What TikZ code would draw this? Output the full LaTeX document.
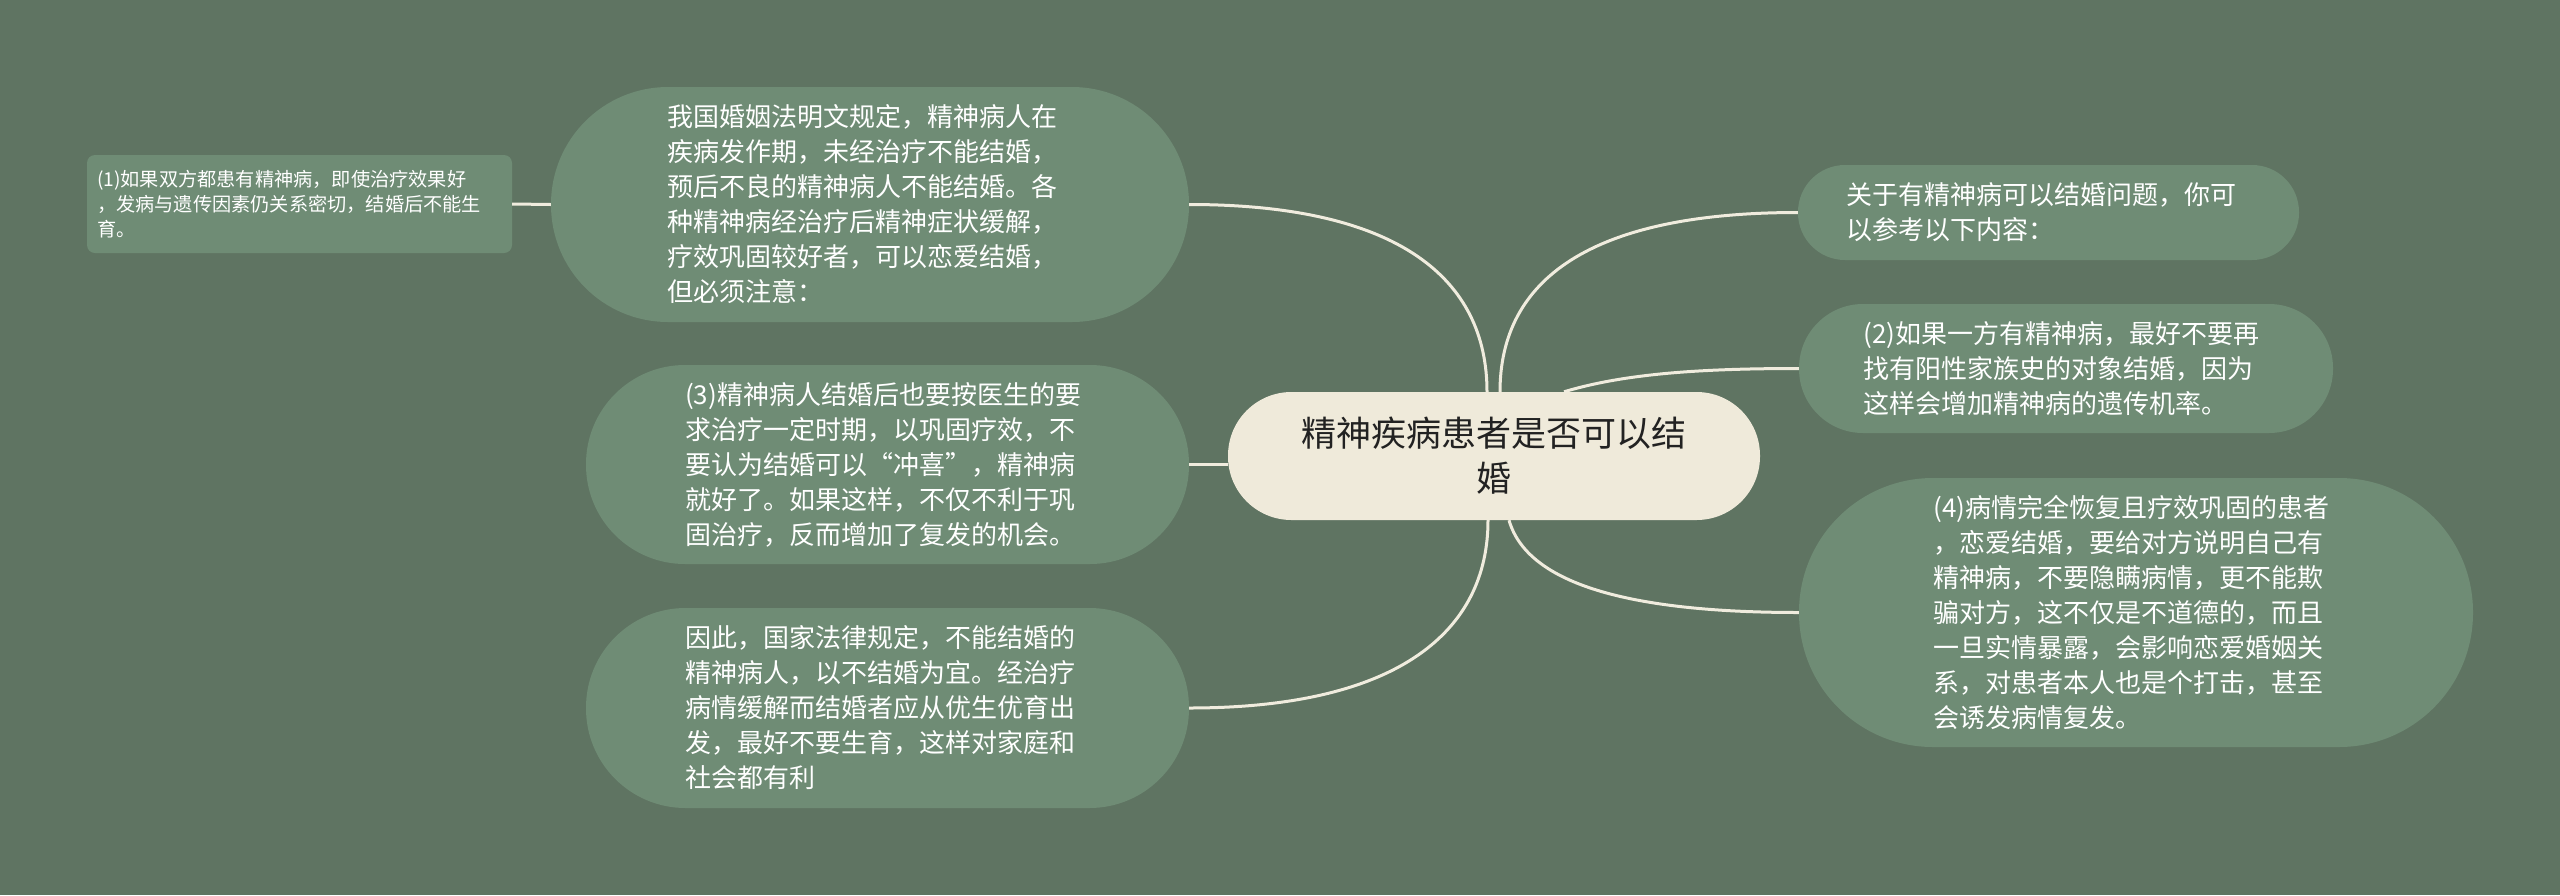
\documentclass[tikz,border=0pt]{standalone}
\usepackage{fontspec}
\setmainfont{Noto Sans CJK SC}
\usetikzlibrary{calc}
\definecolor{bg}{RGB}{95,116,98}
\definecolor{nodefill}{RGB}{111,140,117}
\definecolor{centerfill}{RGB}{239,234,218}
\definecolor{linecol}{RGB}{240,236,222}
\definecolor{centertext}{RGB}{34,34,34}
\begin{document}
\begin{tikzpicture}[x=1pt,y=-1pt,
  topic/.style={fill=nodefill, text=white, inner sep=0pt, align=left, text width=405pt,
    font=\fontsize{26}{35}\selectfont},
  smalltopic/.style={fill=nodefill, text=white, inner sep=0pt, align=left, text width=405pt,
    font=\fontsize{19.2}{25}\selectfont, rounded corners=8pt},
  maintopic/.style={fill=centerfill, text=centertext, inner sep=0pt, align=center,
    font=\fontsize{35}{45}\selectfont},
  link/.style={draw=linecol, line width=3pt}]
\useasboundingbox (0,0) rectangle (2560,895);
\fill[bg] (0,0) rectangle (2560,895);

\node[maintopic, minimum width=532pt, minimum height=128pt, rounded corners=63.5pt] (C) at (1494,456)
  {精神疾病患者是否可以结\\婚};

\node[topic, minimum width=638pt, minimum height=235pt, rounded corners=117pt] (A) at (870,204.5)
  {我国婚姻法明文规定，精神病人在\\疾病发作期，未经治疗不能结婚，\\预后不良的精神病人不能结婚。各\\种精神病经治疗后精神症状缓解，\\疗效巩固较好者，可以恋爱结婚，\\但必须注意：};

\node[smalltopic, minimum width=425pt, minimum height=98pt] (N1) at (299.5,204)
  {(1)如果双方都患有精神病，即使治疗效果好\\，发病与遗传因素仍关系密切，结婚后不能生\\育。};

\node[topic, minimum width=603pt, minimum height=199pt, rounded corners=99pt] (N3) at (887.5,464.5)
  {(3)精神病人结婚后也要按医生的要\\求治疗一定时期，以巩固疗效，不\\要认为结婚可以“冲喜”，精神病\\就好了。如果这样，不仅不利于巩\\固治疗，反而增加了复发的机会。};

\node[topic, minimum width=603pt, minimum height=200pt, rounded corners=99.5pt] (N5) at (887.5,708)
  {因此，国家法律规定，不能结婚的\\精神病人，以不结婚为宜。经治疗\\病情缓解而结婚者应从优生优育出\\发，最好不要生育，这样对家庭和\\社会都有利};

\node[topic, minimum width=501pt, minimum height=95pt, rounded corners=47pt] (R1) at (2048.5,212.5)
  {关于有精神病可以结婚问题，你可\\以参考以下内容：};

\node[topic, minimum width=534pt, minimum height=129pt, rounded corners=64pt] (R2) at (2066,368.5)
  {(2)如果一方有精神病，最好不要再\\找有阳性家族史的对象结婚，因为\\这样会增加精神病的遗传机率。};

\node[topic, minimum width=674pt, minimum height=269pt, rounded corners=134pt] (R4) at (2136,612.5)
  {(4)病情完全恢复且疗效巩固的患者\\，恋爱结婚，要给对方说明自己有\\精神病，不要隐瞒病情，更不能欺\\骗对方，这不仅是不道德的，而且\\一旦实情暴露，会影响恋爱婚姻关\\系，对患者本人也是个打击，甚至\\会诱发病情复发。};

\draw[link] (N1.east) -- (A.west);
\draw[link] (A.east) .. controls +(211,0) and +(0,-112) .. ($(C.north)+(-7,0)$);
\draw[link] ($(C.north)+(6,0)$) .. controls +(0,-112) and +(-208,0) .. (R1.west);
\draw[link] ($(C.north)+(70,0)$) .. controls +(60,-18) and +(-100,0) .. (R2.west);
\draw[link] (N3.east) -- (N3.east -| C.west);
\draw[link] ($(C.south)+(-6,0)$) .. controls +(0,110) and +(211,0) .. (N5.east);
\draw[link] ($(C.south)+(15,0)$) .. controls +(20,70) and +(-150,0) .. (R4.west);
\end{tikzpicture}
\end{document}
